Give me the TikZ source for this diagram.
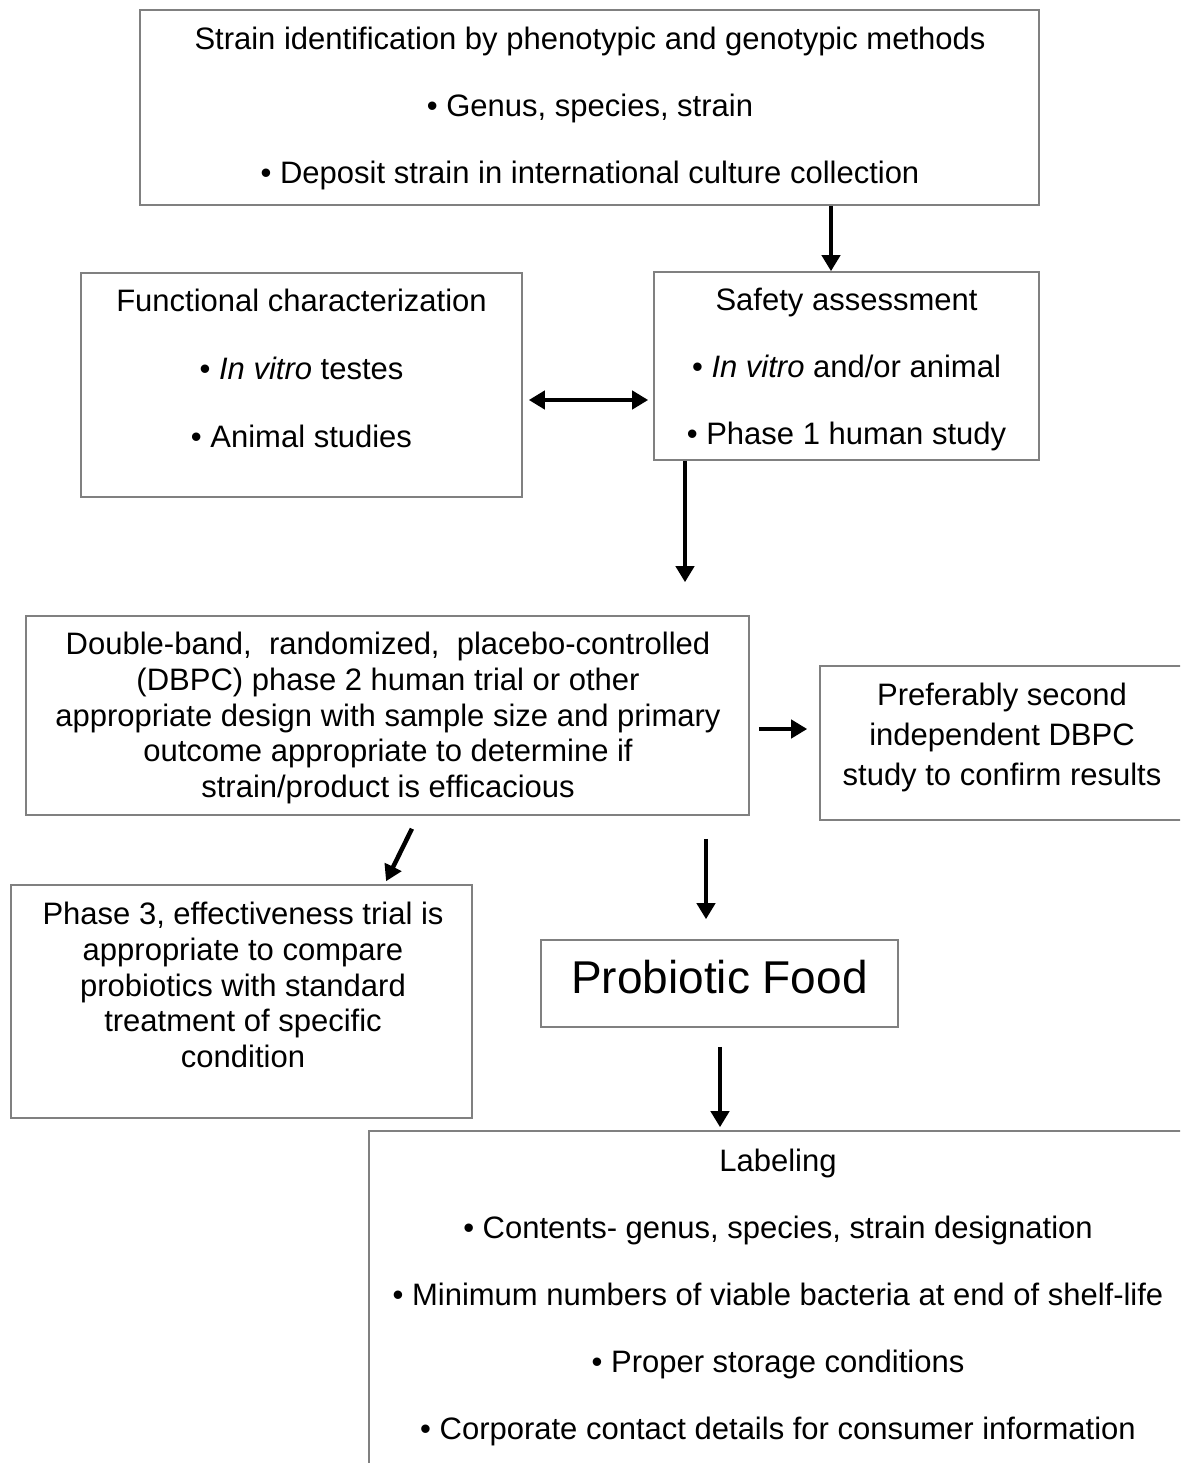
\documentclass[tikz,border=0pt]{standalone}
\usepackage{fontspec}
\setmainfont{Liberation Sans}
\usepackage{tikz}
\usetikzlibrary{shapes,arrows,arrows.meta}
\tikzstyle{box} = [rectangle, draw=black!50, line width=1.6pt, inner sep=0pt]
\tikzstyle{txt} = [align=center, inner sep=0pt, font=\fontsize{31}{36}\selectfont]
\tikzstyle{line} = [draw, line width=4.5pt, -{Triangle[width=18pt,length=16pt]}]
\tikzstyle{dline} = [draw, line width=4.5pt, {Triangle[width=18pt,length=16pt]}-{Triangle[width=18pt,length=16pt]}]

\begin{document}
\begin{tikzpicture}[x=1pt,y=-1pt]
\clip (0,0) rectangle (1180,1463);

\node [box, minimum width=899pt, minimum height=195pt] (strain) at (589.5,107.5) {};
\node [txt] (straintxt) at (590,108) {Strain identification by phenotypic and genotypic methods\\[31pt]
  • Genus, species, strain\\[31pt]
  • Deposit strain in international culture collection};

\node [box, minimum width=441pt, minimum height=224pt] (func) at (301.5,385) {};
\node [txt] (functxt) at (301.5,368) {Functional characterization\\[32pt]
  • \textit{In vitro} testes\\[32pt]
  • Animal studies};

\node [box, minimum width=385pt, minimum height=188pt] (safe) at (846.5,366) {};
\node [txt] (safetxt) at (846.5,369) {Safety assessment\\[31pt]
  • \textit{In vitro} and/or animal\\[31pt]
  • Phase 1 human study};

\path [line] ([xshift=241.5pt]strain.south) -- ([xshift=-15.5pt]safe.north);
\path [dline, shorten <=6pt, shorten >=5pt] ([yshift=-15pt]func.east) -- ([yshift=-34pt]safe.west);

\node [box, minimum width=723pt, minimum height=199pt] (dbpc) at (387.5,715.5) {};
\node [txt, font=\fontsize{31}{35.75}\selectfont] (dbpctxt) at (388,718) {Double-band,\ \ randomized,\ \ placebo-controlled\\
  (DBPC) phase 2 human trial or other\\
  appropriate design with sample size and primary\\
  outcome appropriate to determine if\\
  strain/product is efficacious};

\node [box, minimum width=366pt, minimum height=154pt] (pref) at (1003,743) {};
\node [txt] (preftxt) at (1002,737) {Preferably second\\[4pt]
  independent DBPC\\[4pt]
  study to confirm results};

\path [line, shorten >=33pt] ([xshift=-161.5pt]safe.south) -- ([xshift=297.5pt]dbpc.north);
\path [line, shorten <=9pt, shorten >=12pt] ([yshift=-13.5pt]dbpc.east) -- ([yshift=14pt]pref.west);

\node [box, minimum width=461pt, minimum height=233pt] (phase) at (241.5,1001.5) {};
\node [txt, font=\fontsize{31}{35.75}\selectfont] (phasetxt) at (243,985) {Phase 3, effectiveness trial is\\
  appropriate to compare\\
  probiotics with standard\\
  treatment of specific\\
  condition};

\node [box, minimum width=357pt, minimum height=87pt] (food) at (719.5,983.5) {};
\node [txt, font=\fontsize{46}{50}\selectfont] (foodtxt) at (719.5,977) {Probiotic Food};

\path [line, shorten <=14.4pt, shorten >=3.3pt] ([xshift=30.8pt]dbpc.south) -- ([xshift=143.1pt]phase.north);
\path [line, shorten <=23pt, shorten >=20pt] ([xshift=318.5pt]dbpc.south) -- ([xshift=-13.5pt]food.north);

\node [box, minimum width=818pt, minimum height=349pt] (label) at (778,1305.5) {};
\node [txt] (labeltxt) at (778,1297) {Labeling\\[31pt]
  • Contents- genus, species, strain designation\\[31pt]
  • Minimum numbers of viable bacteria at end of shelf-life\\[31pt]
  • Proper storage conditions\\[31pt]
  • Corporate contact details for consumer information};

\path [line, shorten <=19pt, shorten >=3pt] ([xshift=0.5pt]food.south) -- ([xshift=-58pt]label.north);

\end{tikzpicture}
\end{document}
